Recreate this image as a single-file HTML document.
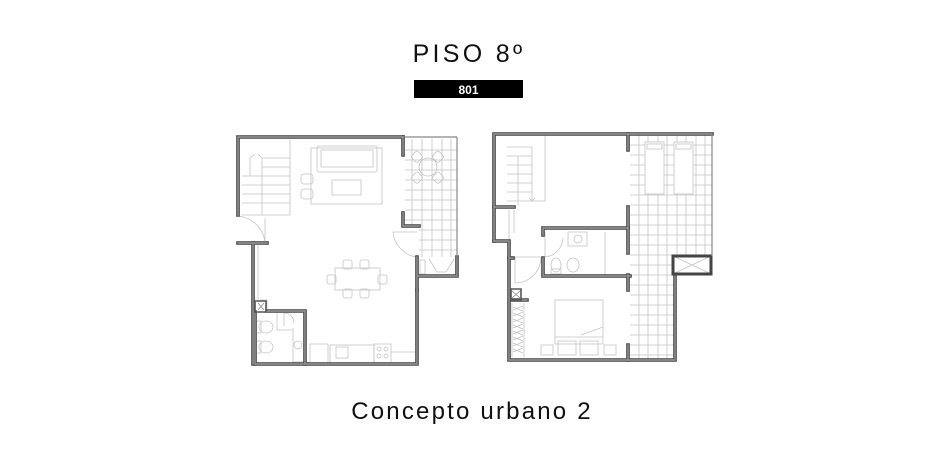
<!DOCTYPE html>
<html><head><meta charset="utf-8"><style>
html,body{margin:0;padding:0;background:#fff;width:940px;height:450px;overflow:hidden}
</style></head><body>
<svg width="940" height="450" viewBox="0 0 940 450" xmlns="http://www.w3.org/2000/svg">
<defs>
<g id="wallsL" fill="none" stroke-linecap="square">
  <path d="M238 215V137H403"/>
  <path d="M238 243H267"/>
  <path d="M253 243V364"/>
  <path d="M255 312V364H417V290"/>
  <path d="M267 311H305V364"/>
  <path d="M403 137V155M403 213V226H419"/>
  <path d="M417 257V290M417 276H457V257"/>
</g>
<g id="wallsR" fill="none" stroke-linecap="square">
  <path d="M494 241V134H712"/>
  <path d="M494 241H509V360H675V275"/>
  <path d="M494 207H514"/>
  <path d="M628 134V150M628 207V253M628 275V290M628 345V360"/>
  <path d="M543 228H628M543 228V235M543 258V276H630"/>
  <path d="M509 258H513"/>
  <path d="M511 300H527"/>
</g>
</defs>
<text x="469" y="62" text-anchor="middle" font-family="Liberation Sans, sans-serif" font-size="25" letter-spacing="3.3" fill="#111">PISO 8º</text>
<rect x="414" y="80" width="109" height="18" fill="#000"/>
<text x="468.5" y="94" text-anchor="middle" font-family="Liberation Sans, sans-serif" font-size="12" font-weight="bold" fill="#fff">801</text>
<text x="472" y="419" text-anchor="middle" font-family="Liberation Sans, sans-serif" font-size="24" letter-spacing="2.2" fill="#111">Concepto urbano 2</text>

<g stroke="#c4c4c4" stroke-width="0.8" fill="none">
  <path d="M405 150H457M405 160H457M405 170H457M405 180H457M405 190H457M405 200H457M405 210H457M405 220H457M419 230H457M419 240H457M419 250H457"/>
  <path d="M412 139V226M422 139V257M432 139V257M442 139V257M451 139V257"/>
  <path d="M242 176H290M242 185H290M242 194H290M242 203H290M262 158H290M262 167H290M262 158V215M290 140V215M242 215H290M250 176V158L255 154M262 158L258 154"/>
  <path d="M237 216 A30 30 0 0 1 265 242M265 242V218"/>
  <path d="M393 232 A28 28 0 0 0 416 257M393 232H417"/>
  <path d="M284 313 A10 10 0 0 1 294 323M284 313V326M277 310V330H292"/>
  <rect x="310" y="344" width="18" height="19"/><rect x="330" y="345" width="44" height="18"/><rect x="336" y="347" width="12" height="11"/><rect x="374" y="344" width="17" height="19"/>
  <circle cx="379" cy="349" r="2"/><circle cx="386" cy="349" r="2"/><circle cx="379" cy="356" r="2"/><circle cx="386" cy="356" r="2"/>
  <path d="M391 352H417M293 328V362H305M260 300H267V312"/>
  <ellipse cx="266" cy="327" rx="7" ry="6"/><rect x="256" y="321" width="5" height="12"/>
  <ellipse cx="266" cy="347" rx="7" ry="6"/><rect x="256" y="341" width="5" height="12"/>
  <circle cx="298" cy="345" r="4"/>
  <rect x="311" y="148" width="71" height="56"/><rect x="317" y="146" width="60" height="26" rx="2"/><rect x="321" y="150" width="52" height="17"/>
  <rect x="332" y="180" width="29" height="15"/>
  <rect x="301" y="174" width="12" height="10" rx="3"/><rect x="301" y="189" width="12" height="10" rx="3"/>
  <circle cx="428" cy="167" r="9"/>
  <rect x="413" y="152" width="9" height="9" rx="2" transform="rotate(45 417 156)"/>
  <rect x="434" y="152" width="9" height="9" rx="2" transform="rotate(45 438 156)"/>
  <rect x="413" y="173" width="9" height="9" rx="2" transform="rotate(45 417 177)"/>
  <rect x="434" y="173" width="9" height="9" rx="2" transform="rotate(45 438 177)"/>
  <rect x="335" y="268" width="45" height="22"/>
  <rect x="343" y="260" width="9" height="9" rx="2"/><rect x="360" y="260" width="9" height="9" rx="2"/>
  <rect x="343" y="289" width="9" height="9" rx="2"/><rect x="360" y="289" width="9" height="9" rx="2"/>
  <rect x="327" y="275" width="9" height="9" rx="2"/><rect x="378" y="275" width="9" height="9" rx="2"/>
  <path d="M429 259L437 272H446L454 259M420 260H425V274H420Z"/>
  <path d="M417 290V364M258 245V300"/>
</g>
<use href="#wallsL" stroke="#444" stroke-width="3.6"/>
<use href="#wallsL" stroke="#999" stroke-width="1.4"/>
<path d="M255 301H266V312H255Z" stroke="#555" stroke-width="1.6" fill="none"/>
<path d="M403 137H457M457 137V257" stroke="#888" stroke-width="1.2" fill="none"/>
<path d="M258 303L264 310M264 303L258 310" stroke="#888" stroke-width="0.8"/>

<g stroke="#c4c4c4" stroke-width="0.8" fill="none">
  <path d="M630 145H712M630 155H712M630 165H712M630 175H712M630 185H712M630 195H712M630 205H712M630 215H712M630 225H712M630 235H712M630 245H712M630 255H672M630 265H672M630 275H675M630 285H675M630 295H675M630 305H675M630 315H675M630 325H675M630 335H675M630 345H675M630 355H675"/>
  <path d="M639 135V359M648 135V359M658 135V359M667 135V359M677 135V255M686 135V255M696 135V255M705 135V255"/>
  <rect x="645" y="142" width="19" height="52" fill="#fff"/><rect x="647" y="144" width="15" height="5"/>
  <rect x="674" y="142" width="19" height="52" fill="#fff"/><rect x="676" y="144" width="15" height="5"/>
  <path d="M507 147H532V201H507M507 156H532M507 165H532M507 174H532M507 183H532M507 192H532M518 156V205M529 198L532 201L535 198M545 135V201H532"/>
  <path d="M509 210V240M514 210V233"/>
  <path d="M545 232V257M545 257 A20 20 0 0 0 563 238M568 232H587V246H568ZM605 232V276"/>
  <circle cx="578" cy="239" r="4"/>
  <ellipse cx="556" cy="265" rx="5" ry="7"/><rect x="551" y="269" width="10" height="5"/>
  <ellipse cx="573" cy="265" rx="6" ry="7"/>
  <path d="M515 257V283 A26 26 0 0 0 541 257H515"/>
  <rect x="555" y="300" width="48" height="44"/><path d="M555 337H603M581 335L603 327"/>
  <rect x="558" y="341" width="18" height="14"/><rect x="580" y="341" width="18" height="14"/>
  <rect x="541" y="345" width="12" height="10"/><rect x="604" y="345" width="12" height="10"/>
  <path d="M512 303V357M524 303V357M513 307L523 311M513 313L523 317M513 319L523 323M513 325L523 329M513 331L523 335M513 337L523 341M513 343L523 347M513 349L523 353M513 310L523 306M513 316L523 312M513 322L523 318M513 328L523 324M513 334L523 330M513 340L523 336M513 346L523 342M513 352L523 348"/>
  <path d="M675 257L709 273M709 257L675 273"/>
</g>
<use href="#wallsR" stroke="#444" stroke-width="3.6"/>
<use href="#wallsR" stroke="#999" stroke-width="1.4"/>
<path d="M511 289H521V300H511Z" stroke="#555" stroke-width="1.6" fill="none"/>
<path d="M673 256H711V274H673Z" stroke="#444" stroke-width="3" fill="none"/>
<path d="M512 291L520 298M520 291L512 298" stroke="#888" stroke-width="0.8"/>
<path d="M712 134V256" stroke="#888" stroke-width="1.2"/>
</svg>
</body></html>
